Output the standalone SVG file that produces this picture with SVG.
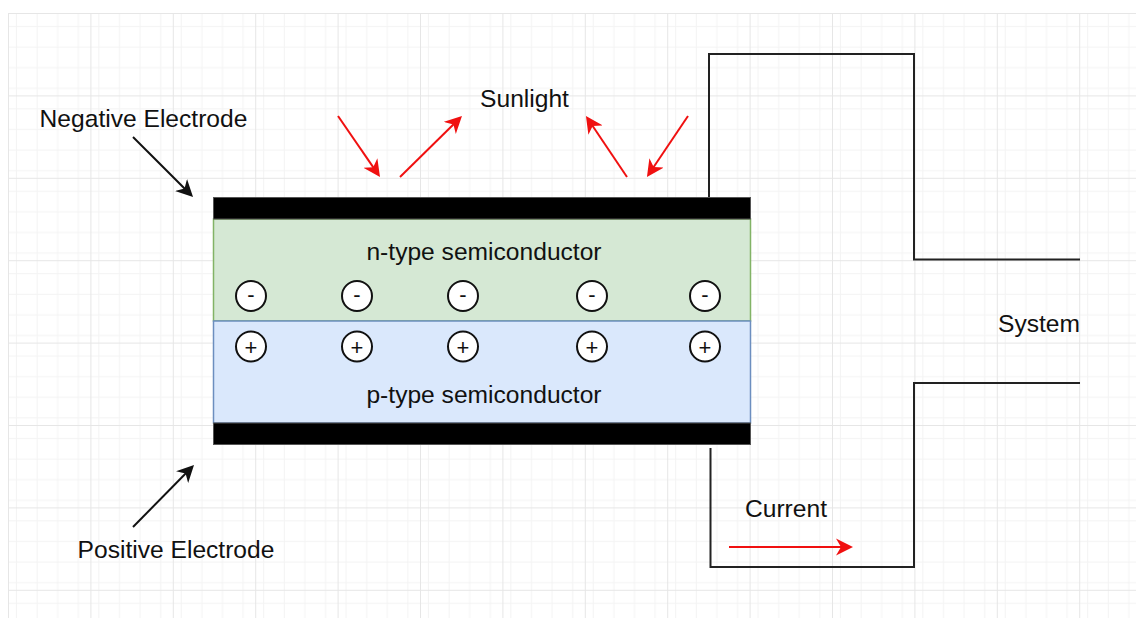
<svg xmlns="http://www.w3.org/2000/svg" width="1136" height="618" viewBox="0 0 1136 618">
<style>
.t{font-family:"Liberation Sans",Arial,Helvetica,sans-serif;font-size:24.6px;fill:#111}
.s{font-family:"Liberation Sans",Arial,Helvetica,sans-serif;font-size:22px;fill:#111;text-anchor:middle}
.wire{fill:none;stroke:#222;stroke-width:2}
.ra{fill:none;stroke:#f01010;stroke-width:2;marker-end:url(#ahr)}
.ba{fill:none;stroke:#111;stroke-width:2;marker-end:url(#ahb)}
.ion{fill:#fff;stroke:#111;stroke-width:2}
.bar{fill:#000;stroke:#555;stroke-width:1}
</style>
<defs>
<pattern id="minor" patternUnits="userSpaceOnUse" x="8" y="13" width="20.6" height="20.6">
<path d="M0.5 0 V20.6 M0 0.5 H20.6" stroke="#f3f3f3" stroke-width="1" fill="none"/>
</pattern>
<pattern id="major" patternUnits="userSpaceOnUse" x="8" y="13" width="82.4" height="82.4">
<rect width="82.4" height="82.4" fill="url(#minor)"/>
<path d="M0.5 0 V82.4 M0 0.5 H82.4" stroke="#e6e6e6" stroke-width="1" fill="none"/>
</pattern>
<marker id="ahr" markerUnits="userSpaceOnUse" viewBox="0 0 18 18" markerWidth="18" markerHeight="18" refX="11" refY="9" orient="auto">
<path d="M0,0.5 L17,9 L0,17.5 L5,9 Z" fill="#f01010"/>
</marker>
<marker id="ahb" markerUnits="userSpaceOnUse" viewBox="0 0 18 18" markerWidth="18" markerHeight="18" refX="11" refY="9" orient="auto">
<path d="M0,0.5 L17,9 L0,17.5 L5,9 Z" fill="#111"/>
</marker>
</defs>
<rect width="1136" height="618" fill="#fff"/>
<rect x="8" y="13" width="1128" height="605" fill="url(#major)"/>

<g id="connectors">
<path class="wire" d="M709 197 V54 H914 V259.5 H1080"/>
<path class="wire" d="M710.5 448 V567 H914 V383 H1080"/>
<line class="ra" x1="338" y1="116" x2="376.6" y2="172.1"/>
<line class="ra" x1="400" y1="177" x2="457.7" y2="120.2"/>
<line class="ra" x1="627" y1="177" x2="589.3" y2="121"/>
<line class="ra" x1="688" y1="116" x2="650.3" y2="172"/>
<line class="ba" x1="133" y1="137" x2="188.8" y2="192.8"/>
<line class="ba" x1="133" y1="527" x2="189.8" y2="469.3"/>
<line class="ra" x1="729" y1="547" x2="847" y2="547"/>
</g>

<g id="n-layer">
<rect x="213.5" y="219" width="537" height="102" fill="#d5e8d4" stroke="#82b366" stroke-width="1.5"/>
<text class="t" x="484" y="260" text-anchor="middle">n-type semiconductor</text>
</g>
<g id="p-layer">
<rect x="213.5" y="321" width="537" height="102" fill="#dae8fc" stroke="#6c8ebf" stroke-width="1.5"/>
<text class="t" x="484" y="403" text-anchor="middle">p-type semiconductor</text>
</g>
<g id="negative-electrode">
<rect class="bar" x="213.5" y="197.5" width="537" height="21.5"/>
</g>
<g id="positive-electrode">
<rect class="bar" x="213.5" y="423" width="537" height="21.5"/>
</g>

<g id="electrons">
<circle class="ion" cx="251" cy="296" r="15"/><text class="s" x="251" y="302">-</text>
<circle class="ion" cx="357" cy="296" r="15"/><text class="s" x="357" y="302">-</text>
<circle class="ion" cx="463" cy="296" r="15"/><text class="s" x="463" y="302">-</text>
<circle class="ion" cx="592" cy="296" r="15"/><text class="s" x="592" y="302">-</text>
<circle class="ion" cx="705" cy="296" r="15"/><text class="s" x="705" y="302">-</text>
</g>
<g id="holes">
<circle class="ion" cx="251" cy="346.5" r="15"/><text class="s" x="251" y="354.5">+</text>
<circle class="ion" cx="357" cy="346.5" r="15"/><text class="s" x="357" y="354.5">+</text>
<circle class="ion" cx="463" cy="346.5" r="15"/><text class="s" x="463" y="354.5">+</text>
<circle class="ion" cx="592" cy="346.5" r="15"/><text class="s" x="592" y="354.5">+</text>
<circle class="ion" cx="705" cy="346.5" r="15"/><text class="s" x="705" y="354.5">+</text>
</g>

<g id="label-negative"><text class="t" x="143.5" y="127" text-anchor="middle">Negative Electrode</text></g>
<g id="label-positive"><text class="t" x="176" y="558" text-anchor="middle">Positive Electrode</text></g>
<g id="label-sunlight"><text class="t" x="524.5" y="107" text-anchor="middle">Sunlight</text></g>
<g id="label-system"><text class="t" x="1080" y="332" text-anchor="end">System</text></g>
<g id="label-current"><text class="t" x="786" y="517" text-anchor="middle">Current</text></g>
</svg>
